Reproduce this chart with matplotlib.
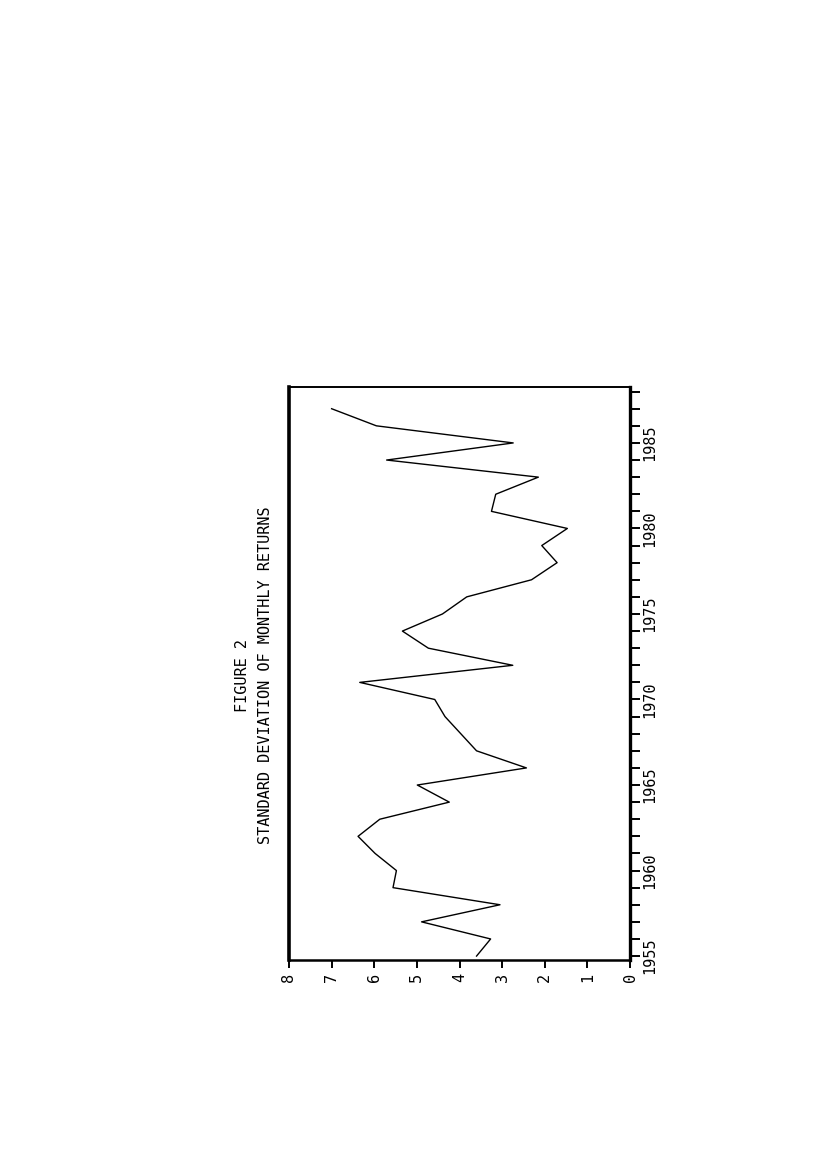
import matplotlib.pyplot as plt
import numpy as np

# annual standard deviation of monthly returns
years = np.arange(1955, 1988)
std_dev = [3.60, 3.27, 4.89, 3.05, 5.56, 5.48, 5.98, 6.38, 5.87, 4.24,
           4.99, 2.43, 3.60, 3.97, 4.34, 4.58, 6.34, 2.75, 4.73, 5.34,
           4.40, 3.83, 2.31, 1.71, 2.07, 1.47, 3.25, 3.15, 2.15, 5.71,
           2.74, 5.95, 7.00]

year_ticks = np.arange(1955, 1989)
year_labels = [1955, 1960, 1965, 1970, 1975, 1980, 1985]
value_ticks = np.arange(0, 9)

title_lines = ["FIGURE 2", "STANDARD DEVIATION OF MONTHLY RETURNS"]

FONT = "DejaVu Sans Mono"

fig = plt.figure(figsize=(8.27, 11.70), dpi=100)
fig.patch.set_facecolor("white")

# the page is scanned sideways: value runs right-to-left, years run upward
ax = fig.add_axes([289 / 827, 1 - 960 / 1170, 341 / 827, 573 / 1170])
ax.plot(std_dev, years, color="black", lw=1.0)

ax.set_xlim(8, 0)
ax.set_ylim(1954.77, 1988.27)

ax.set_xticks(value_ticks)
ax.set_xticklabels([str(v) for v in value_ticks], rotation=90,
                   fontfamily=FONT, fontsize=11)
ax.set_yticks(year_ticks)
ax.set_yticklabels([str(y) if y in year_labels else "" for y in year_ticks],
                   rotation=90, va="center", fontfamily=FONT, fontsize=11)

ax.yaxis.tick_right()
ax.tick_params(axis="y", direction="out", length=7, width=1.4, pad=2)
ax.tick_params(axis="x", direction="out", length=6, width=1.4, pad=3)

ax.spines["left"].set_linewidth(2.6)
ax.spines["right"].set_linewidth(2.4)
ax.spines["bottom"].set_linewidth(1.8)
ax.spines["top"].set_linewidth(1.4)

# title, rotated with the rest of the page
fig.text(243 / 827, 1 - 675 / 1170, title_lines[0], rotation=90,
         ha="center", va="center", fontfamily=FONT, fontsize=11)
fig.text(266 / 827, 1 - 675 / 1170, title_lines[1], rotation=90,
         ha="center", va="center", fontfamily=FONT, fontsize=11)

fig.savefig("out.png", dpi=100, facecolor="white")
